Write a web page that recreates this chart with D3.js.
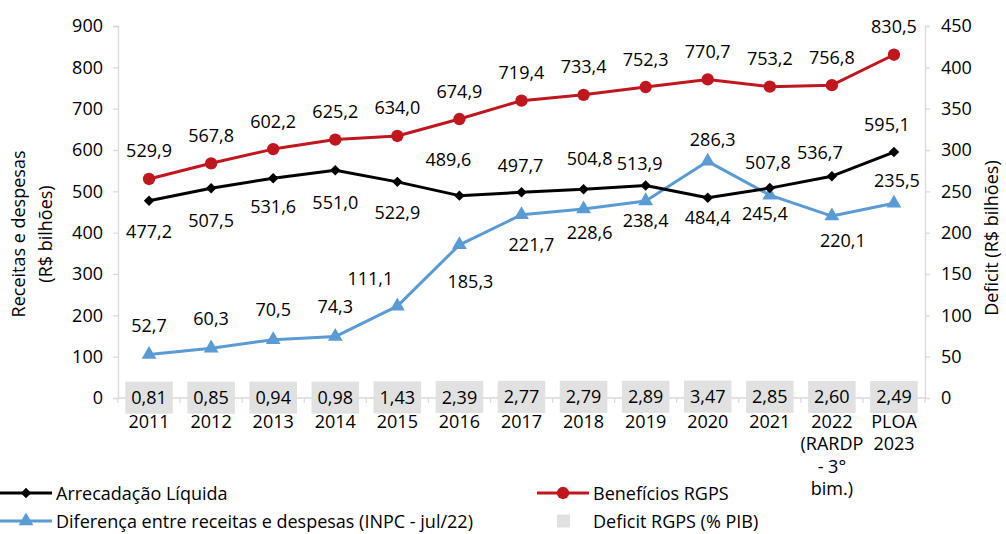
<!DOCTYPE html>
<html>
<head>
<meta charset="utf-8">
<script src="https://cdn.jsdelivr.net/npm/d3@7"></script>
<style>
  html, body { margin: 0; padding: 0; background: #fff; }
  svg { display: block; font-family: "Open Sans", "Noto Sans", sans-serif; }
</style>
</head>
<body>
<svg id="chart" width="1006" height="534"></svg>
<script>
// Categories (multi-line labels split on "\n")
const categories = ["2011", "2012", "2013", "2014", "2015", "2016", "2017", "2018", "2019", "2020", "2021",
  "2022\n(RARDP\n- 3°\nbim.)", "PLOA\n2023"];

// Series values (R$ bilhões / % PIB)
const arrecadacao = [477.2, 507.5, 531.6, 551.0, 522.9, 489.6, 497.7, 504.8, 513.9, 484.4, 507.8, 536.7, 595.1];
const beneficios  = [529.9, 567.8, 602.2, 625.2, 634.0, 674.9, 719.4, 733.4, 752.3, 770.7, 753.2, 756.8, 830.5];
const diferenca   = [52.7, 60.3, 70.5, 74.3, 111.1, 185.3, 221.7, 228.6, 238.4, 286.3, 245.4, 220.1, 235.5];
const deficitPib  = [0.81, 0.85, 0.94, 0.98, 1.43, 2.39, 2.77, 2.79, 2.89, 3.47, 2.85, 2.60, 2.49];

// Axis ticks
const leftTicks  = [0, 100, 200, 300, 400, 500, 600, 700, 800, 900];
const rightTicks = [0, 50, 100, 150, 200, 250, 300, 350, 400, 450];

// Data label placement relative to each point [dx, dy]
const arrLabelOffsets = [[0, 31], [0, 32], [0, 28], [0, 32], [0, 31], [-11, -36], [-1, -27], [6, -31],
  [-6, -22], [0, 20], [-2, -26], [-12, -24], [-7, -28]];
const benLabelOffsets = categories.map(() => [0, -28]);
const difLabelOffsets = [[0, -29], [0, -30], [0, -30], [0, -30], [-27, -28], [11, 37], [10, 30], [6, 23],
  [0, 20], [5, -22], [-5, 18], [11, 24], [3, -23]];

const W = 1006, H = 534;
const plot = { left: 118, right: 925, top: 26, bottom: 398 };
const FS = 18;
const COLORS = { arr: "#000000", ben: "#c0171e", dif: "#5b9bd5", box: "#e1e1e1", axis: "#d9d9d9", text: "#000" };

const fmt = d3.formatLocale({ decimal: ",", thousands: ".", grouping: [3], currency: ["R$", ""] });
const f1 = fmt.format(".1f"), f2 = fmt.format(".2f");

const svg = d3.select("#chart");

const x = d3.scaleBand().domain(d3.range(categories.length)).range([plot.left, plot.right]).padding(0);
const yL = d3.scaleLinear().domain([0, 900]).range([plot.bottom, plot.top]);
const yR = d3.scaleLinear().domain([0, 450]).range([plot.bottom, plot.top]);
const cx = i => x(i) + x.bandwidth() / 2;

// Left axis
const gL = svg.append("g").attr("transform", `translate(${plot.left},0)`)
  .call(d3.axisLeft(yL).tickValues(leftTicks).tickSize(5).tickPadding(10).tickFormat(d3.format("d")));
// Right axis
const gR = svg.append("g").attr("transform", `translate(${plot.right},0)`)
  .call(d3.axisRight(yR).tickValues(rightTicks).tickSize(5).tickPadding(11).tickFormat(d3.format("d")));
[gL, gR].forEach(g => {
  g.select(".domain").attr("stroke", COLORS.axis).attr("stroke-width", 1.3);
  g.selectAll(".tick line").attr("stroke", COLORS.axis).attr("stroke-width", 1.3);
  g.selectAll(".tick text").attr("font-size", FS).attr("fill", COLORS.text).attr("font-family", null);
});
gL.attr("font-family", null); gR.attr("font-family", null);

// Bottom axis: baseline and ticks at category boundaries
const gB = svg.append("g");
gB.append("line").attr("x1", plot.left).attr("x2", plot.right)
  .attr("y1", plot.bottom).attr("y2", plot.bottom).attr("stroke", COLORS.axis).attr("stroke-width", 1.3);
gB.selectAll("line.tk").data(d3.range(categories.length + 1)).join("line").attr("class", "tk")
  .attr("x1", i => plot.left + i * x.bandwidth()).attr("x2", i => plot.left + i * x.bandwidth())
  .attr("y1", plot.bottom).attr("y2", plot.bottom + 5).attr("stroke", COLORS.axis).attr("stroke-width", 1.3);

// Category labels
const catG = svg.append("g").attr("font-size", FS).attr("fill", COLORS.text).attr("text-anchor", "middle");
categories.forEach((c, i) => {
  const t = catG.append("text").attr("x", cx(i)).attr("y", 428);
  c.split("\n").forEach((line, k) => {
    t.append("tspan").attr("x", cx(i)).attr("dy", k === 0 ? 0 : 22.3).text(line);
  });
});

// Deficit (% PIB) columns on the left scale
svg.append("g").selectAll("rect").data(deficitPib).join("rect")
  .attr("x", (d, i) => x(i) + 6).attr("width", x.bandwidth() - 12)
  .attr("y", d => yL(d)).attr("height", d => yL(0) - yL(d)).attr("fill", COLORS.box);

// Deficit (% PIB) labels with shaded boxes
const boxG = svg.append("g");
deficitPib.forEach((d, i) => {
  const g = boxG.append("g");
  const t = g.append("text").attr("x", cx(i)).attr("y", yL(d) + 6.5)
    .attr("text-anchor", "middle").attr("font-size", FS).attr("fill", COLORS.text).text(f2(d));
  const w = t.node().getComputedTextLength();
  g.insert("rect", "text").attr("x", cx(i) - w / 2 - 6).attr("width", w + 12)
    .attr("y", yL(d) - 16).attr("height", 32).attr("fill", COLORS.box);
});

// Lines
function drawSeries(values, y, color, marker) {
  const line = d3.line().x((d, i) => cx(i)).y(d => y(d));
  svg.append("path").datum(values).attr("d", line).attr("fill", "none")
    .attr("stroke", color).attr("stroke-width", 3).attr("stroke-linejoin", "round");
  svg.append("g").selectAll("path").data(values).join("path")
    .attr("transform", (d, i) => `translate(${cx(i)},${y(d)})`)
    .attr("d", marker).attr("fill", color);
}
const diamond = d3.symbol().type(d3.symbolDiamond2).size(70)();
const circle = d3.symbol().type(d3.symbolCircle).size(120)();
const triangle = d3.symbol().type(d3.symbolTriangle).size(95)();

drawSeries(diferenca, yR, COLORS.dif, triangle);
drawSeries(arrecadacao, yL, COLORS.arr, diamond);
drawSeries(beneficios, yL, COLORS.ben, circle);

// Value labels
function drawLabels(values, y, offsets) {
  svg.append("g").attr("font-size", FS).attr("fill", COLORS.text).attr("text-anchor", "middle")
    .selectAll("text").data(values).join("text")
    .attr("x", (d, i) => cx(i) + offsets[i][0])
    .attr("y", (d, i) => y(d) + offsets[i][1] + 6.5)
    .text(d => f1(d));
}
drawLabels(beneficios, yL, benLabelOffsets);
drawLabels(arrecadacao, yL, arrLabelOffsets);
drawLabels(diferenca, yR, difLabelOffsets);

// Axis titles
const titleG = svg.append("g").attr("font-size", FS).attr("fill", COLORS.text).attr("text-anchor", "middle");
titleG.append("text").attr("transform", "translate(25,234) rotate(-90)").text("Receitas e despesas");
titleG.append("text").attr("transform", "translate(52,234) rotate(-90)").text("(R$ bilhões)");
titleG.append("text").attr("transform", "translate(998,238) rotate(-90)").text("Deficit (R$ bilhões)");

// Legend
const leg = svg.append("g").attr("font-size", FS).attr("fill", COLORS.text);
const legendItems = [
  { label: "Arrecadação Líquida", color: COLORS.arr, marker: diamond, x: 0, y: 493, type: "line" },
  { label: "Diferença entre receitas e despesas (INPC - jul/22)", color: COLORS.dif, marker: triangle, x: 0, y: 521, type: "line" },
  { label: "Benefícios RGPS", color: COLORS.ben, marker: circle, x: 537, y: 493, type: "line" },
  { label: "Deficit RGPS (% PIB)", color: COLORS.box, x: 537, y: 521, type: "box" }
];
legendItems.forEach(it => {
  if (it.type === "line") {
    leg.append("line").attr("x1", it.x).attr("x2", it.x + 52).attr("y1", it.y).attr("y2", it.y)
      .attr("stroke", it.color).attr("stroke-width", 3);
    leg.append("path").attr("d", it.marker).attr("fill", it.color)
      .attr("transform", `translate(${it.x + 26},${it.y})`);
  } else {
    leg.append("rect").attr("x", it.x + 20).attr("y", it.y - 6.5).attr("width", 13).attr("height", 13)
      .attr("fill", it.color);
  }
  leg.append("text").attr("x", it.x + 56).attr("y", it.y + 6.5).text(it.label);
});
</script>
</body>
</html>
